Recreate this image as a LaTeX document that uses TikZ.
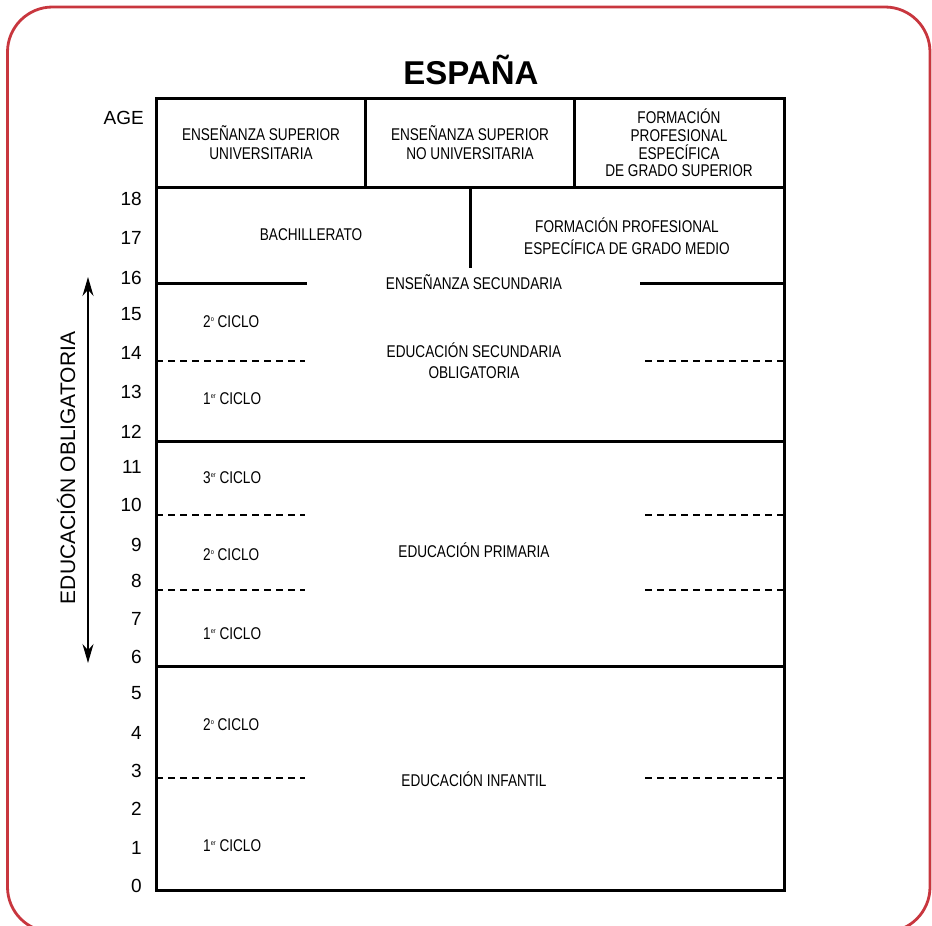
\documentclass[tikz,border=0pt]{standalone}
\usepackage{fontspec}
\setmainfont{Liberation Sans}
\newfontfamily\condfont[FakeStretch=0.8]{Liberation Sans}
\usetikzlibrary{arrows.meta}
\definecolor{framered}{RGB}{200,54,62}
\newcommand{\supo}{\raisebox{0.7ex}{\fontsize{7}{7}\selectfont o}}
\newcommand{\super}{\raisebox{0.7ex}{\fontsize{7}{7}\selectfont er}}
\begin{document}
\begin{tikzpicture}[x=1pt,y=-1pt,
  cell/.style={font=\condfont\fontsize{17}{19}\selectfont, align=center, inner sep=0pt},
  ciclo/.style={font=\condfont\fontsize{17}{19}\selectfont, anchor=west, inner sep=0pt},
  age/.style={font=\fontsize{19}{19}\selectfont, anchor=east, inner sep=0pt},
  rule/.style={line width=3pt, line cap=rect},
  dashrule/.style={line width=2.8pt, dash pattern=on 7pt off 5pt},
  twoarrow/.style={line width=1.3pt, {Stealth[length=19pt,width=11pt]}-{Stealth[length=19pt,width=11pt]}}
]
\useasboundingbox (0,0) rectangle (932,926);
\begin{scope}
  \clip (0,0) rectangle (932,926);
  \draw[framered, line width=2.8pt, rounded corners=45pt] (7.5,7) rectangle (930,932);
\end{scope}

% title
\node[font=\bfseries\fontsize{33}{33}\selectfont, inner sep=0pt] (title) at (471,70) {ESPAÑA};

% table lines
\draw[rule] (156,98) rectangle (784,890);
\draw[rule] (156,187) -- (784,187);
\draw[rule] (365,98) -- (365,187);
\draw[rule] (574,98) -- (574,187);
\draw[rule] (470,187) -- (470,266);
\draw[rule] (156,283) -- (305,283);
\draw[rule] (641,283) -- (784,283);
\draw[rule] (156,441) -- (784,441);
\draw[rule] (156,666) -- (784,666);
\draw[dashrule] (156,361) -- (305,361);
\draw[dashrule] (645,361) -- (784,361);
\draw[dashrule] (156,515) -- (305,515);
\draw[dashrule] (645,515) -- (784,515);
\draw[dashrule] (156,590) -- (305,590);
\draw[dashrule] (645,590) -- (784,590);
\draw[dashrule] (156,778) -- (305,778);
\draw[dashrule] (645,778) -- (784,778);

% cell texts
\node[cell] (esu) at (261,143) {ENSEÑANZA SUPERIOR\\UNIVERSITARIA};
\node[cell] (esnu) at (470,143) {ENSEÑANZA SUPERIOR\\NO UNIVERSITARIA};
\node[cell, font=\condfont\fontsize{17}{17.7}\selectfont] (fpgs) at (679,143) {FORMACIÓN\\PROFESIONAL\\ESPECÍFICA\\DE GRADO SUPERIOR};
\node[cell] (bach) at (311,235) {BACHILLERATO};
\node[cell, font=\condfont\fontsize{17}{22}\selectfont] (fpgm) at (627,236) {FORMACIÓN PROFESIONAL\\ESPECÍFICA DE GRADO MEDIO};
\node[cell] (ens) at (474,282) {ENSEÑANZA SECUNDARIA};
\node[cell, font=\condfont\fontsize{17}{21}\selectfont] (eso) at (474,361) {EDUCACIÓN SECUNDARIA\\OBLIGATORIA};
\node[cell] (prim) at (474,550) {EDUCACIÓN PRIMARIA};
\node[cell] (inf) at (474,779) {EDUCACIÓN INFANTIL};

\node[ciclo] (c1) at (203,322) {2\supo{} CICLO};
\node[ciclo] (c2) at (203,399) {1\super{} CICLO};
\node[ciclo] (c3) at (203,478) {3\super{} CICLO};
\node[ciclo] (c4) at (203,555) {2\supo{} CICLO};
\node[ciclo] (c5) at (203,634) {1\super{} CICLO};
\node[ciclo] (c6) at (203,725) {2\supo{} CICLO};
\node[ciclo] (c7) at (203,846) {1\super{} CICLO};

% ages
\node[age] (agelbl) at (144,118) {AGE};
\node[age] (a18) at (142,199) {18};
\node[age] (a17) at (142,238) {17};
\node[age] (a16) at (142,278) {16};
\node[age] (a15) at (142,314) {15};
\node[age] (a14) at (142,353) {14};
\node[age] (a13) at (142,392) {13};
\node[age] (a12) at (142,432) {12};
\node[age] (a11) at (142,467) {11};
\node[age] (a10) at (142,505) {10};
\node[age] (a9) at (142,545) {9};
\node[age] (a8) at (142,581) {8};
\node[age] (a7) at (142,619) {7};
\node[age] (a6) at (142,657) {6};
\node[age] (a5) at (142,693) {5};
\node[age] (a4) at (142,733) {4};
\node[age] (a3) at (142,771) {3};
\node[age] (a2) at (142,809) {2};
\node[age] (a1) at (142,848) {1};
\node[age] (a0) at (142,886) {0};

% compulsory education arrow
\coordinate (arrtop) at (88,277);
\coordinate (arrbot) at (88,663);
\draw[twoarrow] (arrtop) -- (arrbot);
\node[rotate=90, font=\fontsize{21}{21}\selectfont, inner sep=0pt] (oblig) at (66,468) {EDUCACIÓN OBLIGATORIA};
\end{tikzpicture}
\end{document}
